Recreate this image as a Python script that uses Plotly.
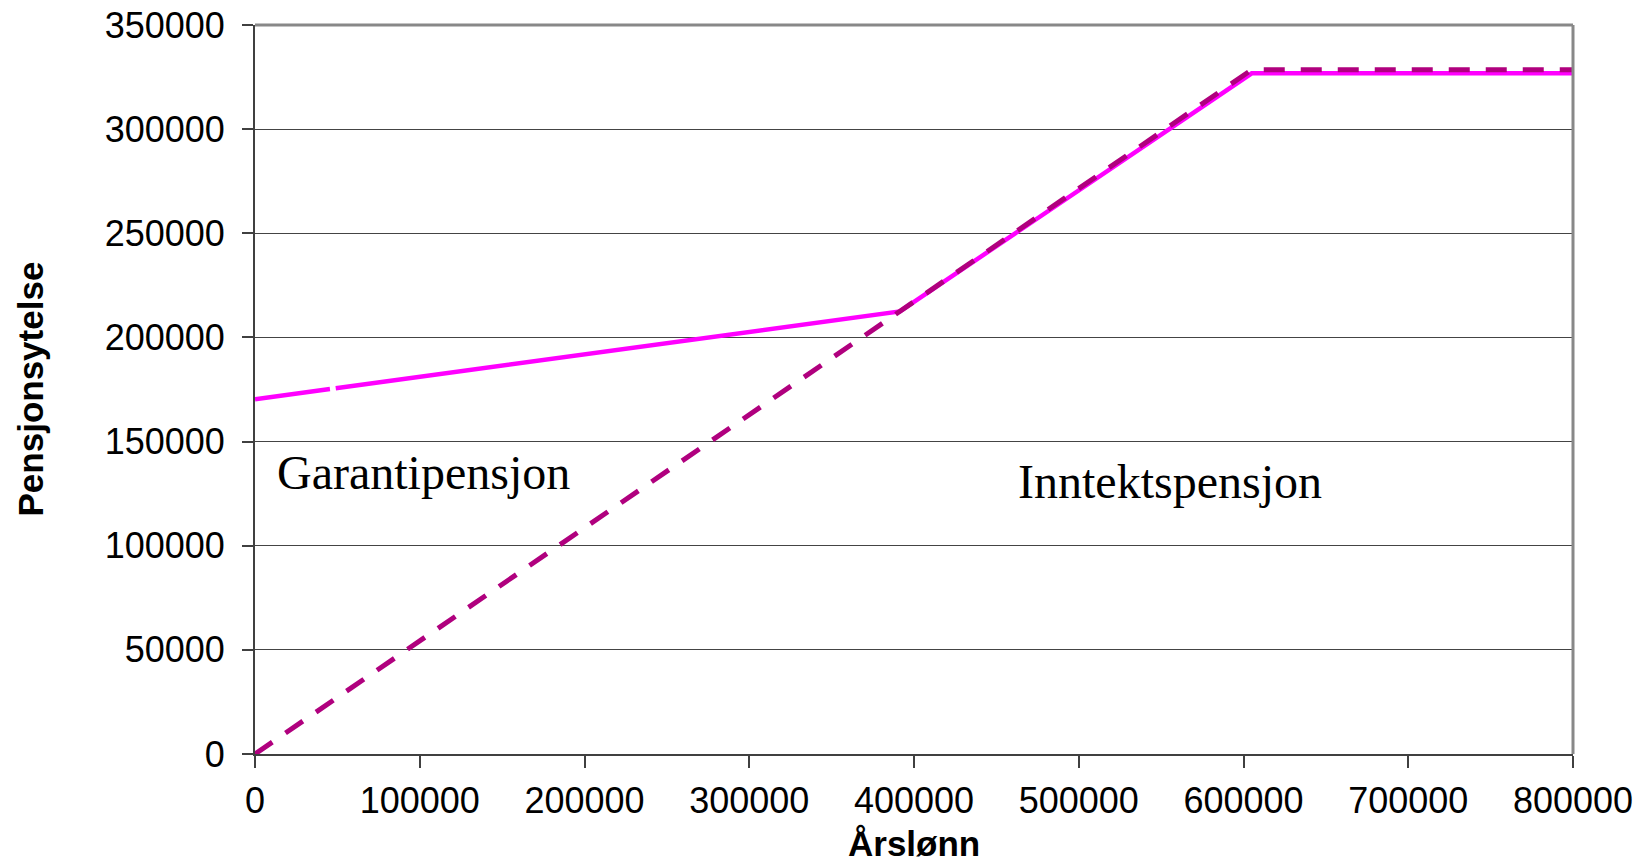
import plotly.graph_objects as go

# Data
inntekt_x = [0, 605000, 800000]
inntekt_y = [0, 328500, 328500]

samlet_x = [0, 45500, None, 49000, 391500, 605000, 800000]
samlet_y = [170300, 175200, None, 175600, 212500, 326800, 326800]

x_ticks = [0, 100000, 200000, 300000, 400000, 500000, 600000, 700000, 800000]
y_ticks = [0, 50000, 100000, 150000, 200000, 250000, 300000, 350000]

labels = ["Garantipensjon", "Inntektspensjon"]
label_x = [12400, 461800]
label_y = [135000, 131000]

fig = go.Figure()
fig.add_trace(go.Scatter(x=samlet_x, y=samlet_y, mode="lines",
                         line=dict(color="#FF00FF", width=4.5),
                         connectgaps=False, showlegend=False, hoverinfo="skip"))
fig.add_trace(go.Scatter(x=inntekt_x, y=inntekt_y, mode="lines",
                         line=dict(color="#B0007E", width=5, dash="21px,16px"),
                         showlegend=False, hoverinfo="skip"))

for t, lx, ly in zip(labels, label_x, label_y):
    fig.add_annotation(x=lx, y=ly, text=t, showarrow=False, xanchor="left", yanchor="middle",
                       font=dict(family="Liberation Serif", size=48, color="black"))

fig.add_annotation(xref="paper", yref="paper", x=0.5, y=0, yshift=-89, text="<b>Årslønn</b>",
                   showarrow=False, xanchor="center", yanchor="middle",
                   font=dict(family="Liberation Sans", size=35, color="black"))
fig.add_annotation(xref="paper", yref="paper", x=0, xshift=-225, y=0.5, text="<b>Pensjonsytelse</b>",
                   showarrow=False, textangle=-90, xanchor="center", yanchor="middle",
                   font=dict(family="Liberation Sans", size=35, color="black"))

# top and right border
fig.add_shape(type="line", xref="paper", yref="paper", x0=0, x1=1, y0=1, y1=1,
              line=dict(color="#888888", width=3))
fig.add_shape(type="line", xref="paper", yref="paper", x0=1, x1=1, y0=0, y1=1,
              line=dict(color="#888888", width=3))

fig.update_layout(
    width=1649, height=861,
    margin=dict(l=247, r=84, t=17, b=115, autoexpand=False),
    paper_bgcolor="white", plot_bgcolor="white",
    font=dict(family="Liberation Sans", size=36, color="black"),
    xaxis=dict(range=[0, 800000], tickvals=x_ticks, ticktext=[str(v) for v in x_ticks],
               showgrid=False, zeroline=False, showline=True, linecolor="#404040", linewidth=2,
               ticks="outside", ticklen=12, tickcolor="#404040", tickwidth=1.5,
               tickfont=dict(size=36), ticklabelstandoff=2, automargin=False,
               ticklabeloverflow="allow"),
    yaxis=dict(range=[0, 350000], tickvals=y_ticks, ticktext=[str(v) for v in y_ticks],
               showgrid=True, gridcolor="#444444", gridwidth=1.2, zeroline=False,
               showline=True, linecolor="#404040", linewidth=2,
               ticks="outside", ticklen=11, tickcolor="#404040", tickwidth=1.5,
               tickfont=dict(size=36), ticklabelstandoff=10, automargin=False,
               ticklabeloverflow="allow"),
)

fig.write_html("out.html")
